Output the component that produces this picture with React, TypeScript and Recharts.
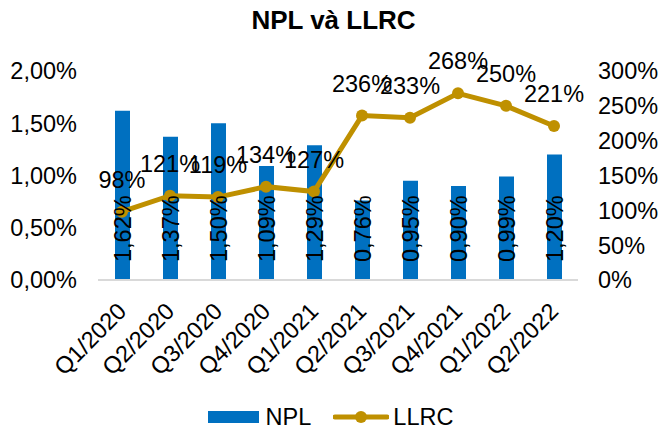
import React from "react";
import {
  ComposedChart,
  Bar,
  Line,
  XAxis,
  YAxis,
  Legend,
  LabelList,
} from "recharts";

const quarters = [
  "Q1/2020", "Q2/2020", "Q3/2020", "Q4/2020", "Q1/2021",
  "Q2/2021", "Q3/2021", "Q4/2021", "Q1/2022", "Q2/2022",
];
const npl = [1.62, 1.37, 1.5, 1.09, 1.29, 0.76, 0.95, 0.9, 0.99, 1.2];
const llrc = [98, 121, 119, 134, 127, 236, 233, 268, 250, 221];
const leftTicks = [0, 0.5, 1, 1.5, 2];
const rightTicks = [0, 50, 100, 150, 200, 250, 300];

const BLUE = "#0070C0";
const GOLD = "#BF9000";
const FONT = "'Liberation Sans', Arial, sans-serif";
const FS = 23.5;

const data = quarters.map((q, i) => ({ q, npl: npl[i], llrc: llrc[i] }));

const fmtNpl = (v: number) => `${v.toFixed(2).replace(".", ",")}%`;

function XTick({ x, y, payload }: any) {
  const ty = y + 19;
  return (
    <text
      x={x}
      y={ty}
      dy="0.35em"
      textAnchor="end"
      transform={`rotate(-45, ${x}, ${ty})`}
      fontSize={FS}
      fontFamily={FONT}
      fill="#000"
    >
      {payload.value}
    </text>
  );
}

function BarLabel({ x, y, width, height, value }: any) {
  const cx = x + width / 2;
  const by = y + height - 18;
  return (
    <text
      x={cx}
      y={by}
      dy="0.35em"
      textAnchor="start"
      transform={`rotate(-90, ${cx}, ${by})`}
      fontSize={FS}
      fontFamily={FONT}
      fill="#000"
    >
      {fmtNpl(value)}
    </text>
  );
}

function LineLabel({ x, y, value }: any) {
  return (
    <text x={x} y={y - 24} textAnchor="middle" fontSize={FS} fontFamily={FONT} fill="#000">
      {`${value}%`}
    </text>
  );
}

function LegendBox() {
  return (
    <div
      style={{
        height: 30,
        display: "flex",
        justifyContent: "center",
        alignItems: "center",
        fontFamily: FONT,
        fontSize: FS,
        color: "#000",
      }}
    >
      <span style={{ display: "inline-block", width: 51, height: 12, background: BLUE, marginRight: 7 }} />
      <span style={{ marginRight: 22 }}>NPL</span>
      <svg width={56} height={14} style={{ marginRight: 4 }}>
        <line x1={2} y1={7} x2={54} y2={7} stroke={GOLD} strokeWidth={5} strokeLinecap="round" />
        <circle cx={28} cy={7} r={6} fill={GOLD} />
      </svg>
      <span>LLRC</span>
    </div>
  );
}

export default function App() {
  return (
    <div
      style={{
        position: "absolute",
        left: 0,
        top: 0,
        width: 661,
        height: 432,
        background: "#fff",
        fontFamily: FONT,
      }}
    >
      <div
        style={{
          position: "absolute",
          top: 5,
          left: 3,
          width: 661,
          textAlign: "center",
          fontSize: 26,
          fontWeight: "bold",
          color: "#000",
        }}
      >
        NPL và LLRC
      </div>
      <ComposedChart
        width={661}
        height={432}
        data={data}
        margin={{ top: 71, right: 0, bottom: 0, left: 0 }}
      >
        <XAxis
          dataKey="q"
          height={122}
          tickLine={false}
          axisLine={{ stroke: "#d9d9d9", strokeWidth: 2 }}
          tick={<XTick />}
          interval={0}
        />
        <YAxis
          yAxisId="left"
          domain={[0, 2]}
          ticks={leftTicks}
          tickFormatter={fmtNpl}
          width={98}
          axisLine={false}
          tickLine={false}
          tickMargin={15}
          tick={{ fontSize: FS, fill: "#000", fontFamily: FONT }}
        />
        <YAxis
          yAxisId="right"
          orientation="right"
          domain={[0, 300]}
          ticks={rightTicks}
          tickFormatter={(v: number) => `${v}%`}
          width={83}
          axisLine={false}
          tickLine={false}
          tickMargin={14}
          tick={{ fontSize: FS, fill: "#000", fontFamily: FONT, textAnchor: "start" }}
        />
        <Legend verticalAlign="bottom" content={<LegendBox />} />
        <Bar yAxisId="left" dataKey="npl" name="NPL" fill={BLUE} barSize={15} isAnimationActive={false}>
          <LabelList dataKey="npl" content={<BarLabel />} />
        </Bar>
        <Line
          yAxisId="right"
          dataKey="llrc"
          name="LLRC"
          stroke={GOLD}
          strokeWidth={5}
          dot={{ r: 6, fill: GOLD, stroke: GOLD, strokeWidth: 0 }}
          activeDot={false}
          isAnimationActive={false}
        >
          <LabelList dataKey="llrc" content={<LineLabel />} />
        </Line>
      </ComposedChart>
    </div>
  );
}
